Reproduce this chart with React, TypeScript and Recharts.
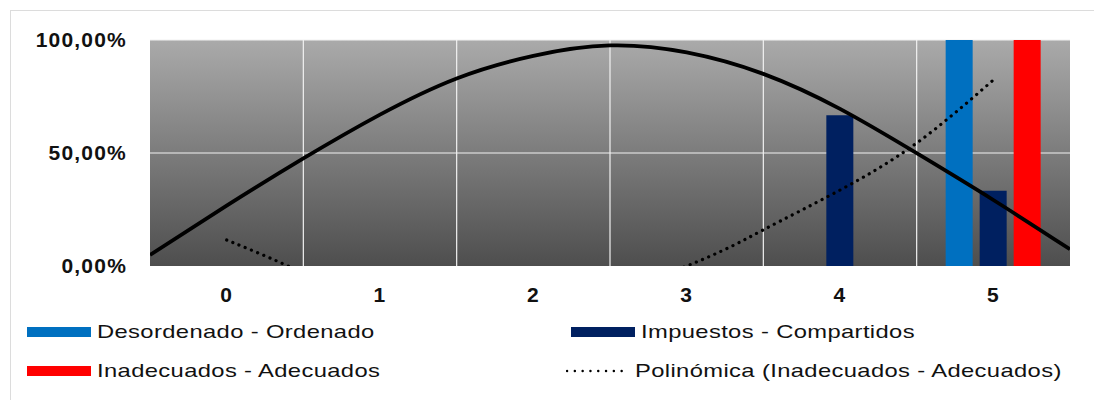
import React from "react";
import {
  Bar,
  CartesianGrid,
  ComposedChart,
  Line,
  XAxis,
  YAxis,
} from "recharts";

// categories and bar series (percent)
const CATEGORIES = ["0", "1", "2", "3", "4", "5"];
const DESORDENADO = [0, 0, 0, 0, 0, 100];
const IMPUESTOS = [0, 0, 0, 0, 66.67, 33.33];
const INADECUADOS = [0, 0, 0, 0, 0, 100];
const Y_TICKS = [0, 50, 100];
const GRID_X = [0.5, 1.5, 2.5, 3.5, 4.5];

// solid trend curve (x in category units)
const HUMP_X = [-0.5, 0, 0.5, 1, 1.5, 2, 2.5, 3, 3.5, 4, 4.5, 5, 5.5];
const HUMP_Y = [4.9, 26.7, 47.6, 67, 83, 93, 97.6, 94.5, 85, 69.5, 49.9, 29.2, 7.4];

// dotted polynomial trend of Inadecuados - Adecuados (parts below 0 are clipped)
const POLY_X = [0, 0.4, 1, 2, 3, 3.5, 4, 4.5, 5];
const POLY_Y = [11.5, 0, -15, -19, 0, 16, 33.6, 54.4, 82.3];

const SERIES = [
  { key: "desordenado", name: "Desordenado - Ordenado", color: "#0070C0", values: DESORDENADO },
  { key: "impuestos", name: "Impuestos - Compartidos", color: "#002060", values: IMPUESTOS },
  { key: "inadecuados", name: "Inadecuados - Adecuados", color: "#FF0000", values: INADECUADOS },
];
const POLY_NAME = "Polinómica (Inadecuados - Adecuados)";

const data = CATEGORIES.map((c, i) => {
  const row: Record<string, string | number> = { cat: c };
  SERIES.forEach((s) => (row[s.key] = s.values[i]));
  return row;
});
const humpData = HUMP_X.map((x, i) => ({ x, y: HUMP_Y[i] }));
const polyData = POLY_X.map((x, i) => ({ x, y: POLY_Y[i] }));

const tickFont = {
  fontFamily: "'Liberation Sans', Arial, sans-serif",
  fontSize: 21,
  fontWeight: 700,
  fill: "#111",
  letterSpacing: 1.2,
};

const legendText: React.CSSProperties = {
  fontFamily: "'Liberation Sans', Arial, sans-serif",
  fontSize: 19,
  letterSpacing: 0.3,
  color: "#111",
  whiteSpace: "nowrap",
  display: "inline-block",
  transform: "scaleX(1.25)",
  transformOrigin: "left center",
};

function LegendItem({ left, top, name, color, dotted }: { left: number; top: number; name: string; color: string; dotted?: boolean }) {
  return (
    <div style={{ position: "absolute", left, top, display: "flex", alignItems: "center", height: 24 }}>
      {dotted ? (
        <svg width={64} height={10} style={{ marginRight: 5 }}>
          <line x1={1} y1={5} x2={63} y2={5} stroke={color} strokeWidth={2.4} strokeDasharray="0.1 7.7" strokeLinecap="round" />
        </svg>
      ) : (
        <div style={{ width: 64, height: 10, background: color, marginRight: 6 }} />
      )}
      <span style={legendText}>{name}</span>
    </div>
  );
}

export default function App() {
  return (
    <div style={{ position: "absolute", left: 0, top: 0, width: 1094, height: 400, background: "#fff", overflow: "hidden" }}>
      <div style={{ position: "absolute", left: 10, top: 10, width: 1100, height: 400, border: "1.5px solid #dcdcdc" }} />
      <div style={{ position: "absolute", left: 0, top: 0 }}>
        <ComposedChart
          width={1094}
          height={310}
          data={data}
          margin={{ top: 40, right: 24, left: 0, bottom: 0 }}
          barSize={27}
          barGap={7}
        >
          <defs>
            <linearGradient id="plotBg" x1="0" y1="0" x2="0" y2="1">
              <stop offset="0%" stopColor="#aaaaaa" />
              <stop offset="100%" stopColor="#4e4e4e" />
            </linearGradient>
          </defs>
          <CartesianGrid
            xAxisId="num"
            fill="url(#plotBg)"
            stroke="#f2f2f2"
            strokeWidth={1.2}
            verticalValues={GRID_X}
            horizontalValues={[50, 100]}
          />
          <XAxis
            xAxisId="cat"
            dataKey="cat"
            height={44}
            tick={tickFont}
            tickSize={0}
            tickMargin={21}
            axisLine={false}
            tickLine={false}
          />
          <XAxis xAxisId="num" type="number" dataKey="x" domain={[-0.5, 5.5]} allowDataOverflow hide />
          <YAxis
            width={150}
            domain={[0, 100]}
            ticks={Y_TICKS}
            allowDataOverflow
            tickFormatter={(v) => `${v},00%`}
            tick={tickFont}
            tickSize={0}
            tickMargin={23}
            axisLine={false}
            tickLine={false}
          />
          {SERIES.map((s) => (
            <Bar key={s.key} xAxisId="cat" dataKey={s.key} name={s.name} fill={s.color} isAnimationActive={false} />
          ))}
          <Line
            xAxisId="num"
            data={polyData}
            dataKey="y"
            name={POLY_NAME}
            type="natural"
            stroke="#000"
            strokeWidth={3.2}
            strokeDasharray="0.1 6.6"
            strokeLinecap="round"
            dot={false}
            activeDot={false}
            isAnimationActive={false}
          />
          <Line
            xAxisId="num"
            data={humpData}
            dataKey="y"
            type="natural"
            stroke="#000"
            strokeWidth={3.8}
            dot={false}
            activeDot={false}
            legendType="none"
            isAnimationActive={false}
          />
        </ComposedChart>
      </div>
      <LegendItem left={27} top={320} name={SERIES[0].name} color={SERIES[0].color} />
      <LegendItem left={571} top={320} name={SERIES[1].name} color={SERIES[1].color} />
      <LegendItem left={27} top={359} name={SERIES[2].name} color={SERIES[2].color} />
      <LegendItem left={566} top={359} name={POLY_NAME} color="#000" dotted />
    </div>
  );
}
